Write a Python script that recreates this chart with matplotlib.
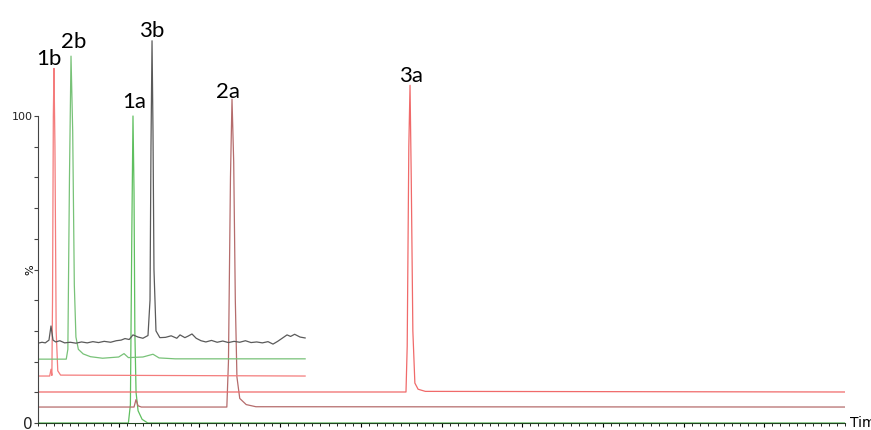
import numpy as np
import matplotlib.pyplot as plt
from matplotlib.ticker import MultipleLocator, FixedLocator

# retention time (min) / intensity (%) knots
t_1a = [0, 1.12, 1.145, 1.162, 1.177, 1.19, 1.20, 1.215, 1.24, 1.29, 1.36, 10.0]
y_1a = [0, 0, 6, 60, 100, 75, 30, 10, 4, 1.2, 0, 0]

t_2a = [0, 1.19, 1.214, 1.24, 1.28, 2.34, 2.36, 2.385, 2.404, 2.425, 2.445,
        2.465, 2.50, 2.58, 2.70, 10.0]
y_2a = [5.2, 5.2, 7.6, 5.6, 5.2, 5.2, 20, 80, 105.5, 85, 40, 15, 8, 6, 5.3, 5.2]

t_3a = [0, 4.56, 4.575, 4.595, 4.61, 4.625, 4.645, 4.67, 4.71, 4.80, 10.0]
y_3a = [10.1, 10.1, 25, 90, 110, 80, 30, 13, 11, 10.3, 10.1]

t_1b = [0, 0.145, 0.161, 0.172, 0.18, 0.19, 0.198, 0.21, 0.225, 0.245, 0.28, 3.31]
y_1b = [15.3, 15.3, 17.5, 15.5, 40, 100, 115.5, 90, 30, 17, 15.6, 15.3]

t_2b = [0, 0.35, 0.37, 0.39, 0.409, 0.43, 0.45, 0.47, 0.50, 0.56, 0.65, 0.8,
        1.00, 1.066, 1.12, 1.30, 1.425, 1.50, 1.70, 3.31]
y_2b = [20.8, 20.8, 24, 80, 119.5, 95, 45, 28, 24, 22.5, 21.6, 21.1,
        21.5, 22.6, 21.3, 21.5, 22.4, 21.2, 20.9, 20.9]

t_3b = [0, 0.05, 0.09, 0.136, 0.161, 0.186, 0.22, 0.27, 0.33, 0.40, 0.47,
        0.54, 0.61, 0.68, 0.75, 0.82, 0.90, 0.97, 1.03, 1.078, 1.13, 1.177,
        1.239, 1.30, 1.363, 1.388, 1.40, 1.413, 1.425, 1.437, 1.462, 1.51,
        1.58, 1.65, 1.72, 1.76, 1.82, 1.86, 1.908, 1.96, 2.02, 2.08, 2.15,
        2.22, 2.29, 2.36, 2.43, 2.50, 2.57, 2.64, 2.71, 2.78, 2.85, 2.912,
        2.97, 3.02, 3.086, 3.13, 3.18, 3.247, 3.31]
y_3b = [26.0, 26.3, 26.1, 27.0, 31.6, 27.0, 26.4, 26.8, 26.1, 26.3, 26.0,
        26.4, 26.1, 26.5, 26.2, 26.6, 26.3, 26.8, 27.0, 27.5, 27.2, 28.7,
        28.0, 27.6, 28.5, 40, 90, 124.5, 95, 50, 30, 27.8,
        27.9, 28.4, 27.6, 28.7, 27.8, 28.3, 29.0, 27.6, 26.8, 26.4, 26.9,
        26.3, 26.7, 26.2, 26.6, 26.3, 26.8, 26.2, 26.4, 26.1, 26.5, 25.7,
        26.6, 27.5, 28.7, 28.2, 28.9, 28.0, 27.7]

traces = [
    (t_1a, y_1a, '#5fbf5f'),
    (t_2a, y_2a, '#b56c6c'),
    (t_3a, y_3a, '#f06a6a'),
    (t_1b, y_1b, '#f47c7c'),
    (t_2b, y_2b, '#78c278'),
    (t_3b, y_3b, '#5a5a5a'),
]

peak_names = ['1b', '2b', '3b', '1a', '2a', '3a']
peak_t = [0.136, 0.446, 1.413, 1.19, 2.354, 4.62]
peak_label_y = [116.6, 122.1, 125.8, 102.6, 106.0, 111.1]

x_ticks = [1, 2, 3, 4, 5, 6, 7, 8, 9]
x_ticklabels = ['1.00', '2.00', '3.00', '4.00', '5.00', '6.00', '7.00', '8.00', '9.00']

fig = plt.figure(figsize=(8.71, 4.30), dpi=100)
ax = fig.add_axes([38 / 871, 7 / 430, 807 / 871, 423 / 430])

for t, y, c in traces:
    ax.plot(t, y, color=c, lw=0.9)

for name, t, y in zip(peak_names, peak_t, peak_label_y):
    ax.text(t, y, name, ha='center', va='baseline', fontsize=16,
            family='Lato', clip_on=False)

ax.set_xlim(0, 10.0)
ax.set_ylim(0, 423 / 3.07)

for s in ['top', 'right']:
    ax.spines[s].set_visible(False)
ax.spines['left'].set_bounds(0, 100)
ax.spines['left'].set_color('#444444')
ax.spines['bottom'].set_color('#224422')

ax.set_yticks([0, 100])
ax.set_yticklabels(['0', '100'])
ax.yaxis.set_minor_locator(FixedLocator(list(range(10, 100, 10))))
ax.tick_params(axis='y', which='both', length=3, width=0.8, pad=1,
               colors='#444444', labelcolor='#222222')
ax.get_yticklabels()[0].set_fontsize(11)
ax.get_yticklabels()[1].set_fontsize(8)

ax.set_xticks(x_ticks)
ax.set_xticklabels(x_ticklabels, fontsize=8, color='#444444')
ax.xaxis.set_minor_locator(MultipleLocator(0.1))
ax.tick_params(axis='x', which='major', length=3, width=0.8, pad=2)
ax.tick_params(axis='x', which='minor', length=2, width=0.6)

ax.text(-0.009, 50, '%', rotation=90, fontsize=8, ha='center', va='center',
        transform=ax.get_yaxis_transform())
ax.text(1.006, 0, 'Time', fontsize=10, ha='left', va='center',
        transform=ax.transAxes, clip_on=False)

fig.savefig('out.png', dpi=100)
